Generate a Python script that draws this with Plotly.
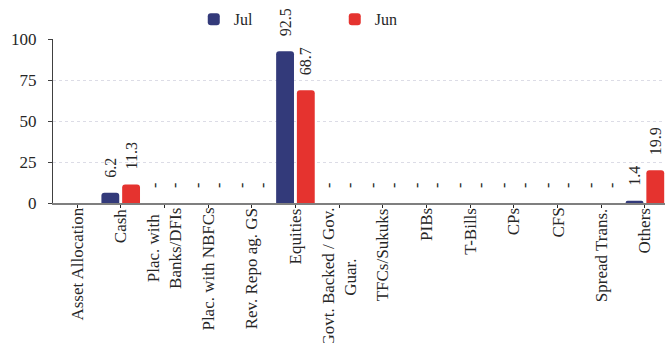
import plotly.graph_objects as go

# Asset allocation categories (wrapped names use <br>)
categories = [
    "Asset Allocation", "Cash", "Plac. with<br>Banks/DFIs", "Plac. with NBFCs",
    "Rev. Repo ag. GS", "Equities", "Govt. Backed / Gov.<br>Guar.", "TFCs/Sukuks",
    "PIBs", "T-Bills", "CPs", "CFS", "Spread Trans.", "Others",
]
jul = [None, 6.2, 0, 0, 0, 92.5, 0, 0, 0, 0, 0, 0, 0, 1.4]
jun = [None, 11.3, 0, 0, 0, 68.7, 0, 0, 0, 0, 0, 0, 0, 19.9]
y_ticks = [0, 25, 50, 75, 100]

FONT = "Liberation Serif"
TXT = "#262626"
PAD = "\u00a0\u00a0\u00a0"  # gap between bar end and its value label


def labels(values):
    out = []
    for v in values:
        if v is None:
            out.append("")
        elif v == 0:
            out.append(PAD + "-")
        else:
            out.append(PAD + f"{v:.1f}")
    return out


pos = list(range(len(categories)))

fig = go.Figure()
for name, vals, color in [("Jul", jul, "#333a7a"), ("Jun", jun, "#e5332f")]:
    fig.add_trace(go.Bar(
        x=pos, y=vals, name=name,
        marker=dict(color=color, line=dict(width=0)),
        text=labels(vals), textposition="outside", textangle=-90,
        constraintext="none", cliponaxis=False,
        textfont=dict(family=FONT, size=16, color=TXT),
    ))

# category names below the axis: longest line against the axis, lines centred
for i, lab in enumerate(categories):
    fig.add_annotation(
        x=i, xref="x", y=0, yref="paper", yanchor="top", xanchor="center",
        yshift=-3, text=lab, textangle=-90, align="center", showarrow=False,
        font=dict(family=FONT, size=17, color=TXT),
    )

fig.update_layout(
    width=665, height=343,
    margin=dict(l=53, r=0, t=39, b=140),
    paper_bgcolor="white", plot_bgcolor="white",
    barmode="group", bargap=0.05, bargroupgap=0.14, barcornerradius=3,
    font=dict(family=FONT, size=16, color=TXT),
    showlegend=True,
    legend=dict(
        orientation="h", x=0.23, xanchor="left", y=1.12, yanchor="middle",
        entrywidth=96, font=dict(family=FONT, size=16, color=TXT),
        bgcolor="rgba(0,0,0,0)", itemclick=False,
    ),
    xaxis=dict(
        range=[-0.55, 13.46], tickmode="array", tickvals=pos,
        showticklabels=False, ticks="outside", ticklen=3, tickwidth=1,
        tickcolor="#262626", showline=True, linecolor="#7f7f7f", linewidth=1.5,
        showgrid=False, zeroline=False,
    ),
    xaxis2=dict(
        overlaying="x", anchor="y", side="bottom", matches="x",
        tickmode="array", tickvals=pos, showticklabels=False,
        ticks="inside", ticklen=4, tickwidth=1, tickcolor="#262626",
        showline=False, showgrid=False, zeroline=False,
    ),
    yaxis=dict(
        range=[0, 100], tickmode="array", tickvals=y_ticks,
        ticks="outside", ticklen=4, tickcolor="#404040", tickwidth=1,
        showline=True, linecolor="#404040", linewidth=1,
        showgrid=True, gridcolor="#dcdce6", griddash="dot", gridwidth=1,
        zeroline=False, ticklabelstandoff=8,
        tickfont=dict(family=FONT, size=17, color=TXT),
    ),
)

fig.write_html("out.html")
